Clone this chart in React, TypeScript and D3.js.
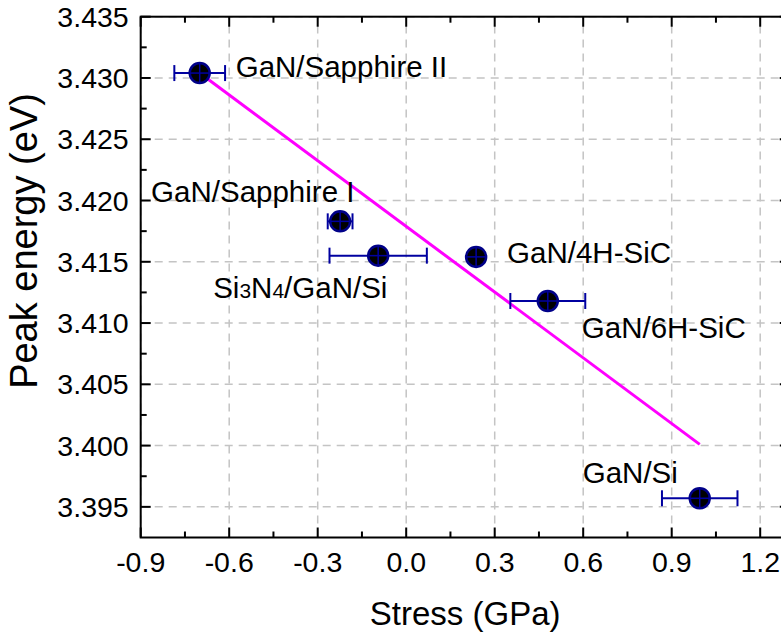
import * as d3 from "d3";

const samples = ["GaN/Sapphire II", "GaN/Sapphire I", "Si3N4/GaN/Si", "GaN/4H-SiC", "GaN/6H-SiC", "GaN/Si"];
const stress = [-0.7, -0.224, -0.095, 0.237, 0.48, 0.995];
const stressErr = [0.086, 0.042, 0.165, 0, 0.127, 0.128];
const peakEnergy = [3.4304, 3.4183, 3.4155, 3.4154, 3.4118, 3.3957];

// linear fit end points
const fitStress = [-0.7, 0.995];
const fitEnergy = [3.4304, 3.4001];

const xTicks = [-0.9, -0.6, -0.3, 0.0, 0.3, 0.6, 0.9, 1.2];
const yTicks = [3.395, 3.4, 3.405, 3.41, 3.415, 3.42, 3.425, 3.43, 3.435];

// label offsets from each point, in px
const labelDx = [36, -189, -165, 31, 34, -117];
const labelDy = [4, -19, 42, 6, 37, -15];

const W = 781;
const H = 632;
const FONT = "'Liberation Sans', Arial, sans-serif";

const x = d3.scaleLinear().domain([-0.9, 1.3]).range([140.7, 789.7]);
const y = d3.scaleLinear().domain([3.3925, 3.435]).range([537.5, 16.7]);

const xMinor = xTicks.map((t) => t + 0.15).filter((t) => t < 1.3);
const yMinor = yTicks.map((t) => t - 0.0025).filter((t) => t > 3.3925);

const fmtX = (t: number) => d3.format(".1f")(t).replace("\u2212", "-");
const fmtY = (t: number) => d3.format(".3f")(t);

function Label({ text, px, py }: { text: string; px: number; py: number }) {
  if (text.startsWith("Si3N4")) {
    return (
      <text x={px} y={py} fontSize={29.5} fontFamily={FONT} fill="#000">
        Si<tspan fontSize={21}>3</tspan>N<tspan fontSize={21}>4</tspan>/GaN/Si
      </text>
    );
  }
  return (
    <text x={px} y={py} fontSize={29.5} fontFamily={FONT} fill="#000">
      {text}
    </text>
  );
}

export default function App() {
  const [x0, x1] = x.range();
  const [y0, y1] = y.range();
  const line = d3
    .line<number>()
    .x((d) => x(d))
    .y((_, i) => y(fitEnergy[i]));

  return (
    <svg width={W} height={H} style={{ position: "absolute", left: 0, top: 0, background: "#fff" }}>
      {/* grid */}
      <g stroke="#c4c4c4" strokeWidth={1.5} strokeDasharray="8,6">
        {xTicks.map((t) => (
          <line key={"gx" + t} x1={x(t)} x2={x(t)} y1={y0} y2={y1} />
        ))}
        {yTicks.map((t) => (
          <line key={"gy" + t} x1={x0} x2={x1} y1={y(t)} y2={y(t)} />
        ))}
      </g>

      {/* fit line */}
      <path d={line(fitStress) || ""} fill="none" stroke="#ff00ff" strokeWidth={3} />

      {/* error bars */}
      <g stroke="#0000a0" strokeWidth={2}>
        {stress.map((s, i) =>
          stressErr[i] > 0 ? (
            <g key={"e" + i}>
              <line x1={x(s - stressErr[i])} x2={x(s + stressErr[i])} y1={y(peakEnergy[i])} y2={y(peakEnergy[i])} />
              <line x1={x(s - stressErr[i])} x2={x(s - stressErr[i])} y1={y(peakEnergy[i]) - 8} y2={y(peakEnergy[i]) + 8} />
              <line x1={x(s + stressErr[i])} x2={x(s + stressErr[i])} y1={y(peakEnergy[i]) - 8} y2={y(peakEnergy[i]) + 8} />
            </g>
          ) : null
        )}
      </g>

      {/* markers */}
      {stress.map((s, i) => {
        const cx = x(s);
        const cy = y(peakEnergy[i]);
        return (
          <g key={"m" + i}>
            <circle cx={cx} cy={cy} r={10} fill="#000" stroke="#000088" strokeWidth={2.5} />
            <line x1={cx - 9.5} x2={cx + 9.5} y1={cy} y2={cy} stroke="#0000a0" strokeWidth={1.5} />
            <line x1={cx} x2={cx} y1={cy - 9.5} y2={cy + 9.5} stroke="#0000a0" strokeWidth={1.5} />
          </g>
        );
      })}

      {/* axes frame */}
      <rect x={x0} y={y1} width={x1 - x0} height={y0 - y1} fill="none" stroke="#000" strokeWidth={2} />
      <g stroke="#000" strokeWidth={2}>
        {xTicks.map((t) => (
          <g key={"tx" + t}>
            <line x1={x(t)} x2={x(t)} y1={y0} y2={y0 - 10} />
            <line x1={x(t)} x2={x(t)} y1={y1} y2={y1 + 10} />
          </g>
        ))}
        {xMinor.map((t) => (
          <g key={"mx" + t}>
            <line x1={x(t)} x2={x(t)} y1={y0} y2={y0 - 6} />
            <line x1={x(t)} x2={x(t)} y1={y1} y2={y1 + 6} />
          </g>
        ))}
        {yTicks.map((t) => (
          <g key={"ty" + t}>
            <line x1={x0} x2={x0 + 10} y1={y(t)} y2={y(t)} />
            <line x1={x1} x2={x1 - 10} y1={y(t)} y2={y(t)} />
          </g>
        ))}
        {yMinor.map((t) => (
          <g key={"my" + t}>
            <line x1={x0} x2={x0 + 6} y1={y(t)} y2={y(t)} />
            <line x1={x1} x2={x1 - 6} y1={y(t)} y2={y(t)} />
          </g>
        ))}
      </g>

      {/* tick labels */}
      <g fontFamily={FONT} fontSize={28.5} fill="#000">
        {xTicks.map((t) => (
          <text key={"lx" + t} x={x(t)} y={572} textAnchor="middle">
            {fmtX(t)}
          </text>
        ))}
        {yTicks.map((t) => (
          <text key={"ly" + t} x={x0 - 12} y={y(t) + 10} textAnchor="end">
            {fmtY(t)}
          </text>
        ))}
      </g>

      {/* axis titles */}
      <text x={(x0 + 789.7) / 2} y={625} textAnchor="middle" fontFamily={FONT} fontSize={33} fill="#000">
        Stress (GPa)
      </text>
      <text
        transform={`translate(37,241) rotate(-90)`}
        textAnchor="middle"
        fontFamily={FONT}
        fontSize={38}
        fill="#000"
      >
        Peak energy (eV)
      </text>

      {/* sample labels */}
      {samples.map((s, i) => (
        <Label key={s} text={s} px={x(stress[i]) + labelDx[i]} py={y(peakEnergy[i]) + labelDy[i]} />
      ))}
    </svg>
  );
}
